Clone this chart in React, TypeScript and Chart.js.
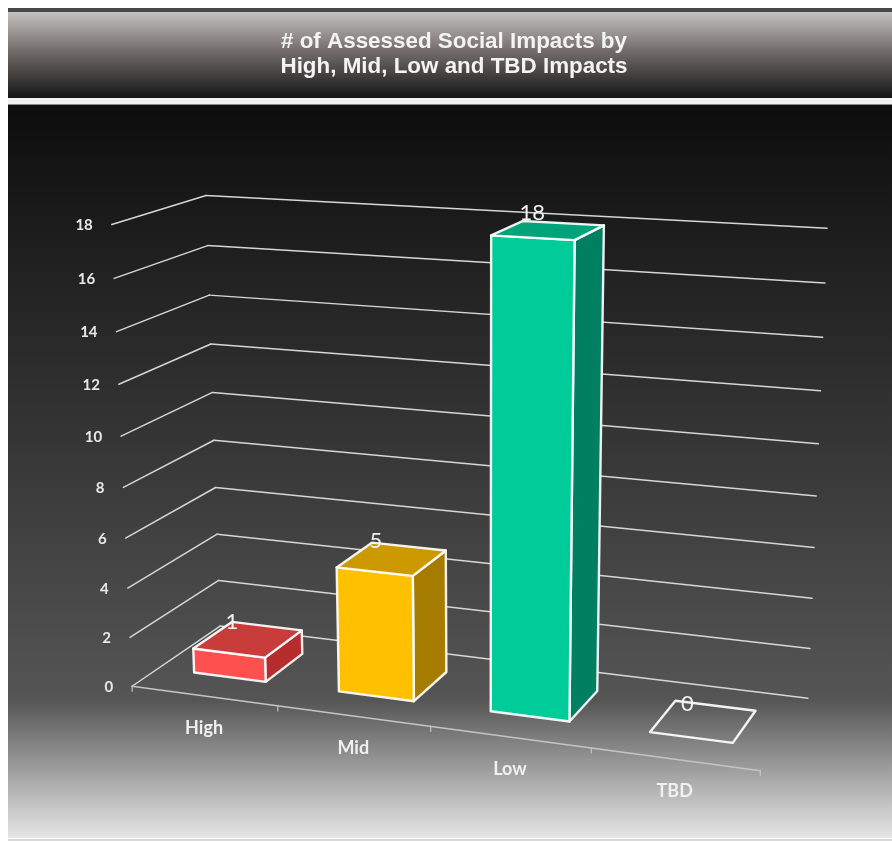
import React, { useEffect, useRef } from "react";
import { Chart, registerables } from "chart.js";

Chart.register(...registerables);

const categories = ["High", "Mid", "Low", "TBD"];
const impacts = [1, 5, 18, 0];
const frontColors = ["#ff5050", "#ffc000", "#00cc99", "rgba(0,0,0,0)"];
const topColors = ["#c93c3c", "#cc9900", "#00a37a", "rgba(0,0,0,0)"];
const sideColors = ["#b52d2d", "#a67c00", "#008060", "rgba(0,0,0,0)"];
const titleLines = ["# of Assessed Social Impacts by", "High, Mid, Low and TBD Impacts"];

// Camera calibration: cube corner (u, v, w) -> picture position.
const camera: number[][] = [
  [0, 0, 0, 132, 686], [1, 0, 0, 760, 771], [1, 0, 1, 808, 697], [0, 0, 1, 221, 627],
  [0, 1, 0, 112, 225], [0, 1, 1, 205, 196], [1, 1, 1, 828, 229],
  [0, 10 / 18, 0, 122, 434], [0, 10 / 18, 1, 212, 392], [1, 10 / 18, 1, 818, 443],
  [0.5, 0, 0, 430, 728],
];
const DEPTH_FRONT = 0.29;
const DEPTH_BACK = 0.74;

function solveCamera(points: number[][]) {
  const n = 11;
  const A = Array.from({ length: n }, () => new Array(n + 1).fill(0));
  const add = (r: number[], b: number) => {
    for (let i = 0; i < n; i++) {
      for (let j = 0; j < n; j++) A[i][j] += r[i] * r[j];
      A[i][n] += r[i] * b;
    }
  };
  for (const [X, Y, Z, px, py] of points) {
    const x = px / 1000, y = py / 1000;
    add([X, Y, Z, 1, 0, 0, 0, 0, -x * X, -x * Y, -x * Z], x);
    add([0, 0, 0, 0, X, Y, Z, 1, -y * X, -y * Y, -y * Z], y);
  }
  for (let c = 0; c < n; c++) {
    let best = c;
    for (let r = c + 1; r < n; r++) if (Math.abs(A[r][c]) > Math.abs(A[best][c])) best = r;
    [A[c], A[best]] = [A[best], A[c]];
    for (let r = 0; r < n; r++) {
      if (r === c) continue;
      const f = A[r][c] / A[c][c];
      for (let k = c; k <= n; k++) A[r][k] -= f * A[c][k];
    }
  }
  const p = A.map((row, i) => row[n] / row[i]);
  return (u: number, v: number, w: number): [number, number] => {
    const d = p[8] * u + p[9] * v + p[10] * w + 1;
    return [
      (1000 * (p[0] * u + p[1] * v + p[2] * w + p[3])) / d,
      (1000 * (p[4] * u + p[5] * v + p[6] * w + p[7])) / d,
    ];
  };
}

const project = solveCamera(camera);

function poly(ctx: CanvasRenderingContext2D, pts: [number, number][], fill: string, stroke: string, lw: number) {
  ctx.beginPath();
  pts.forEach((q, i) => (i ? ctx.lineTo(q[0], q[1]) : ctx.moveTo(q[0], q[1])));
  ctx.closePath();
  ctx.fillStyle = fill;
  ctx.fill();
  ctx.lineWidth = lw;
  ctx.strokeStyle = stroke;
  ctx.lineJoin = "round";
  ctx.stroke();
}

function line(ctx: CanvasRenderingContext2D, a: [number, number], b: [number, number], color: string, lw: number) {
  ctx.beginPath();
  ctx.moveTo(a[0], a[1]);
  ctx.lineTo(b[0], b[1]);
  ctx.strokeStyle = color;
  ctx.lineWidth = lw;
  ctx.stroke();
}

const backdrop = {
  id: "backdrop",
  beforeDraw(chart: any) {
    const { ctx, width, height } = chart;
    ctx.save();
    ctx.fillStyle = "#ffffff";
    ctx.fillRect(0, 0, width, height);
    // header
    ctx.fillStyle = "#474747";
    ctx.fillRect(8, 8, width - 8, 4);
    let g = ctx.createLinearGradient(0, 12, 0, 98);
    g.addColorStop(0, "#c4c2be");
    g.addColorStop(0.45, "#746c6c");
    g.addColorStop(1, "#151515");
    ctx.fillStyle = g;
    ctx.fillRect(8, 12, width - 8, 86);
    ctx.fillStyle = "#f0f0f0";
    ctx.fillRect(8, 98, width - 8, 6);
    ctx.fillStyle = "#8a8a8a";
    ctx.fillRect(8, 104, width - 8, 1);
    // body
    g = ctx.createLinearGradient(0, 105, 0, 700);
    g.addColorStop(0, "#0d0d0d");
    g.addColorStop(1, "#555555");
    ctx.fillStyle = g;
    ctx.fillRect(8, 105, width - 8, 595);
    g = ctx.createLinearGradient(0, 700, 0, 838);
    g.addColorStop(0, "#555555");
    g.addColorStop(1, "#e6e6e6");
    ctx.fillStyle = g;
    ctx.fillRect(8, 700, width - 8, 138);
    ctx.fillStyle = "#d8d8d8";
    ctx.fillRect(8, 839, width - 8, 2);
    ctx.restore();
  },
};

const box3d = {
  id: "box3d",
  beforeDatasetsDraw(chart: any) {
    const { ctx, chartArea: area, scales } = chart;
    const U = (px: number) => (px - area.left) / (area.right - area.left);
    const V = (py: number) => (area.bottom - py) / (area.bottom - area.top);
    ctx.save();
    ctx.lineCap = "round";

    // value axis: grid on left wall and back wall, with tick labels
    ctx.font = "bold 15px Lato";
    ctx.textAlign = "right";
    ctx.textBaseline = "middle";
    for (const t of scales.y.ticks) {
      const v = V(scales.y.getPixelForValue(t.value));
      const a = project(0, v, 0), b = project(0, v, 1), c = project(1, v, 1);
      line(ctx, a, b, "#d6d6d6", 1.5);
      line(ctx, b, c, "#d6d6d6", 1.5);
      ctx.fillStyle = "#e8e8e8";
      ctx.fillText(String(t.label), a[0] - 19, a[1] + 1);
    }

    // category axis: front floor edge, ticks, labels
    line(ctx, project(0, 0, 0), project(1, 0, 0), "#c4c4c4", 1.5);
    const n = categories.length;
    for (let i = 0; i <= n; i++) {
      const q = project(i / n, 0, 0);
      line(ctx, [q[0], q[1]], [q[0], q[1] + 5], "#c4c4c4", 1.2);
    }
    ctx.textAlign = "center";
    ctx.fillStyle = "#f0f0f0";
    ctx.font = "bold 18px Lato";
    categories.forEach((label, i) => {
      const q = project(U(scales.x.getPixelForValue(i)), 0, 0);
      ctx.fillText(label, q[0], q[1] + 32);
    });

    // bars
    const meta = chart.getDatasetMeta(0);
    meta.data.forEach((el: any, i: number) => {
      const u0 = U(el.x - el.width / 2), u1 = U(el.x + el.width / 2);
      const v1 = V(el.y), v0 = V(el.base);
      const w0 = DEPTH_FRONT, w1 = DEPTH_BACK;
      const stroke = "rgba(255,255,255,0.92)";
      const fb0 = project(u0, v0, w0), fb1 = project(u1, v0, w0);
      const ft0 = project(u0, v1, w0), ft1 = project(u1, v1, w0);
      const bb1 = project(u1, v0, w1);
      const bt0 = project(u0, v1, w1), bt1 = project(u1, v1, w1);
      if (impacts[i] > 0) {
        poly(ctx, [fb1, bb1, bt1, ft1], sideColors[i], stroke, 2.4);
        poly(ctx, [fb0, fb1, ft1, ft0], frontColors[i], stroke, 2.4);
      }
      poly(ctx, [ft0, ft1, bt1, bt0], topColors[i], stroke, 2.4);
      const cx = (ft0[0] + ft1[0] + bt0[0] + bt1[0]) / 4;
      const cy = (ft0[1] + ft1[1] + bt0[1] + bt1[1]) / 4;
      ctx.font = "22px Lato";
      ctx.fillStyle = "#f2f2f2";
      ctx.fillText(String(impacts[i]), cx - 16, cy - 18);
    });
    ctx.restore();
    return false;
  },
};

export default function App() {
  const ref = useRef<HTMLCanvasElement>(null);
  useEffect(() => {
    const chart = new Chart(ref.current!, {
      type: "bar",
      data: {
        labels: categories,
        datasets: [{
          label: "# of Assessed Social Impacts",
          data: impacts,
          backgroundColor: frontColors,
          categoryPercentage: 1,
          barPercentage: 0.5,
        }],
      },
      options: {
        responsive: false,
        animation: false,
        layout: { padding: { left: 16, top: 29, right: 0, bottom: 0 } },
        scales: {
          x: { display: false },
          y: { display: false, min: 0, max: 18, ticks: { stepSize: 2 } },
        },
        plugins: {
          legend: { display: false },
          tooltip: { enabled: false },
          title: {
            display: true,
            text: titleLines,
            color: "#f4f4f4",
            font: { family: "Liberation Sans", size: 22.4, weight: "bold", lineHeight: 1.12 },
            padding: 0,
          },
        },
      },
      plugins: [backdrop, box3d],
    } as any);
    return () => chart.destroy();
  }, []);
  return (
    <div style={{ position: "absolute", left: 0, top: 0, width: 892, height: 842, overflow: "hidden" }}>
      <canvas ref={ref} width={892} height={842} style={{ display: "block" }} />
    </div>
  );
}
